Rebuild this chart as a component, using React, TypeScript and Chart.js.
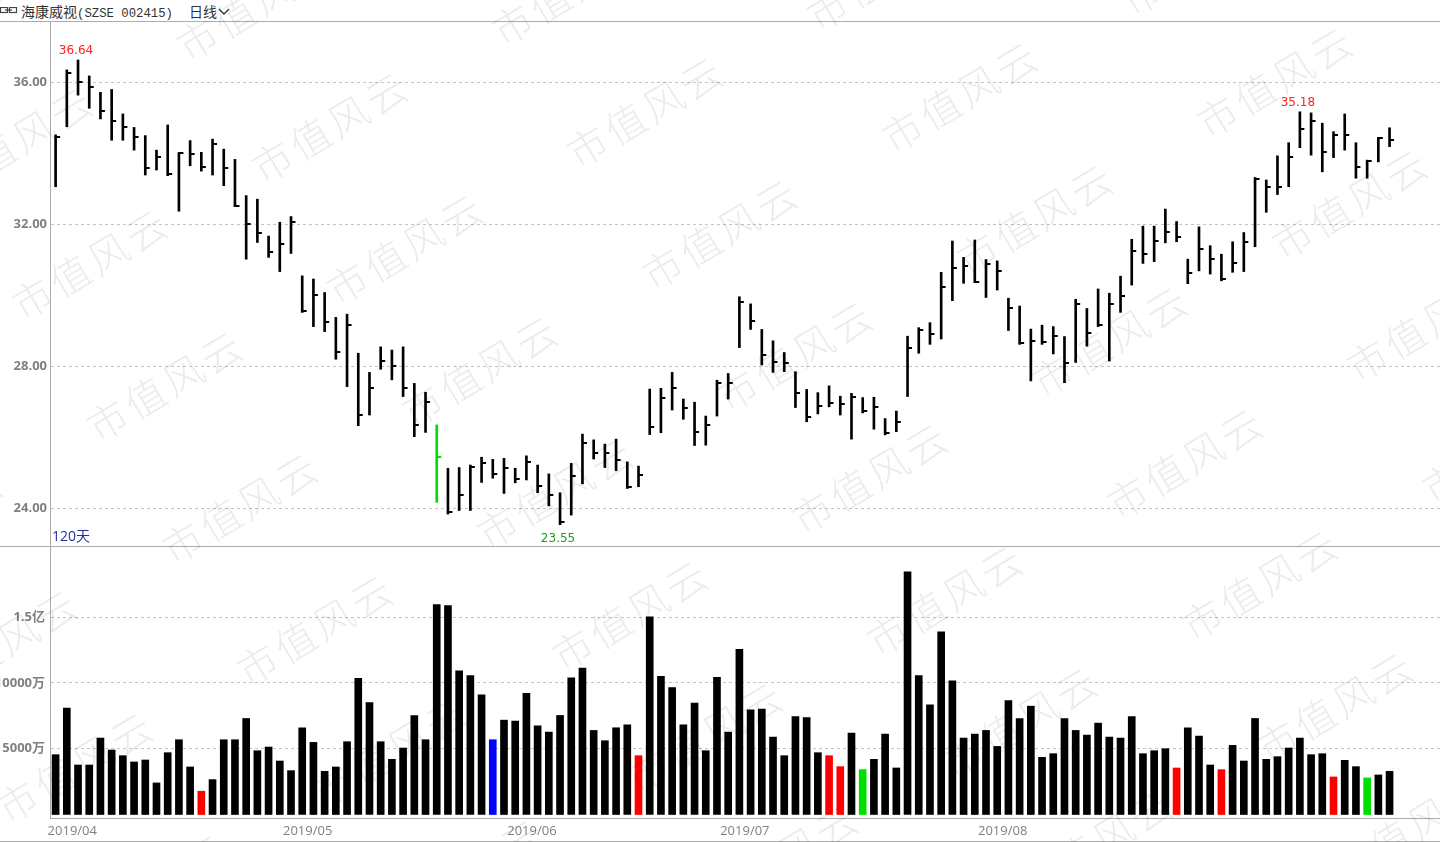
import React, { useEffect, useRef } from 'react';
import { Chart, registerables } from 'chart.js';

Chart.register(...registerables);

// ---- data (120 trading days, 2019/04 - 2019/09) ----
const highs = [
  34.53, 36.36, 36.64, 36.19, 35.73, 35.81, 35.12, 34.74, 34.51, 34.10,
  34.81, 34.03, 34.37, 34.04, 34.41, 34.13, 33.84, 32.82, 32.72, 31.68,
  32.07, 32.23, 30.56, 30.47, 30.09, 29.39, 29.48, 28.38, 27.84, 28.56,
  28.47, 28.56, 27.53, 27.28, 26.36, 25.14, 25.16, 25.23, 25.45, 25.39,
  25.42, 25.14, 25.49, 25.23, 24.98, 24.45, 25.28, 26.10, 25.94, 25.82,
  25.96, 25.32, 25.20, 27.37, 27.39, 27.84, 27.09, 27.00, 26.61, 27.62,
  27.81, 29.97, 29.77, 29.05, 28.73, 28.40, 27.86, 27.36, 27.27, 27.46,
  27.17, 27.25, 27.13, 27.14, 26.54, 26.75, 28.86, 29.10, 29.24, 30.66,
  31.54, 31.08, 31.57, 31.02, 30.98, 29.93, 29.71, 29.06, 29.17, 29.13,
  28.85, 29.90, 29.64, 30.19, 30.07, 30.55, 31.59, 31.96, 31.96, 32.44,
  32.09, 31.03, 31.94, 31.41, 31.17, 31.52, 31.78, 33.33, 33.26, 33.94,
  34.31, 35.18, 35.15, 34.86, 34.62, 35.12, 34.31, 33.82, 34.46, 34.73,
];
const lows = [
  33.07, 34.76, 35.65, 35.28, 34.98, 34.38, 34.38, 34.10, 33.40, 33.54,
  33.38, 32.38, 33.66, 33.51, 33.40, 33.10, 32.51, 31.03, 31.50, 31.08,
  30.68, 31.19, 29.53, 29.13, 28.99, 28.21, 27.44, 26.34, 26.64, 27.93,
  27.63, 27.16, 26.03, 26.15, 24.18, 23.85, 23.95, 23.95, 24.74, 24.86,
  24.43, 24.73, 24.81, 24.45, 24.08, 23.55, 23.82, 24.70, 25.40, 25.16,
  25.07, 24.57, 24.62, 26.09, 26.14, 26.78, 26.52, 25.78, 25.79, 26.61,
  27.09, 28.54, 29.05, 28.05, 27.84, 27.86, 26.85, 26.45, 26.67, 26.87,
  26.64, 25.96, 26.70, 26.24, 26.08, 26.17, 27.16, 28.38, 28.63, 28.78,
  29.86, 30.35, 30.37, 29.95, 30.16, 29.02, 28.63, 27.60, 28.63, 28.36,
  27.55, 28.12, 28.58, 29.13, 28.16, 29.53, 30.30, 30.91, 30.96, 31.49,
  31.52, 30.34, 30.70, 30.61, 30.42, 30.66, 30.68, 31.38, 32.35, 32.85,
  33.07, 34.17, 33.96, 33.49, 33.89, 34.10, 33.31, 33.31, 33.77, 34.20,
];
const closes = [
  34.48, 36.28, 36.01, 35.89, 35.20, 34.93, 34.74, 34.46, 33.59, 33.90,
  33.42, 34.01, 34.00, 33.63, 34.27, 33.59, 32.54, 32.02, 31.76, 31.22,
  31.45, 32.08, 29.58, 30.02, 29.27, 28.42, 29.18, 26.64, 27.41, 28.16,
  28.03, 27.39, 26.36, 27.00, 25.45, 23.90, 24.39, 25.18, 25.30, 24.98,
  25.14, 24.83, 25.33, 24.65, 24.39, 23.63, 24.91, 25.84, 25.58, 25.58,
  25.37, 24.60, 24.95, 26.31, 27.11, 27.39, 26.83, 26.17, 26.36, 27.53,
  27.55, 29.83, 29.29, 28.33, 28.14, 28.11, 27.25, 26.59, 26.90, 26.99,
  26.94, 27.16, 26.75, 26.87, 26.12, 26.45, 28.52, 29.03, 28.91, 30.24,
  30.79, 30.85, 30.40, 30.89, 30.71, 29.64, 28.68, 28.72, 28.69, 28.87,
  28.10, 29.78, 28.94, 29.17, 29.78, 29.99, 31.27, 31.17, 31.54, 31.80,
  31.64, 30.64, 31.31, 31.03, 30.47, 30.91, 31.52, 33.29, 33.07, 33.07,
  33.90, 34.71, 34.93, 34.06, 34.53, 34.53, 33.62, 33.79, 34.43, 34.40,
];
// volume in 万股
const volumes = [
  4545, 8080, 3762, 3762, 5808, 4899, 4469, 3990, 4141, 2399,
  4697, 5681, 3611, 1768, 2651, 5681, 5681, 7297, 4848, 5126,
  4065, 3333, 6590, 5479, 3283, 3611, 5530, 10353, 8509, 5530,
  4192, 5050, 7525, 5681, 15958, 15882, 10908, 10555, 9090, 5681,
  7171, 7095, 9216, 6742, 6262, 7525, 10378, 11135, 6388, 5606,
  6590, 6818, 4469, 15024, 10504, 9646, 6818, 8459, 4848, 10428,
  6262, 12549, 7954, 8004, 5883, 4469, 7449, 7373, 4697, 4469,
  3636, 6186, 3409, 4192, 6110, 3535, 18433, 10555, 8333, 13888,
  10151, 5808, 6110, 6388, 5176, 8661, 7297, 8232, 4343, 4621,
  7297, 6388, 6035, 6944, 5883, 5808, 7449, 4621, 4848, 5000,
  3535, 6590, 5959, 3762, 3409, 5252, 4065, 7297, 4192, 4394,
  5050, 5808, 4545, 4621, 2853, 4116, 3636, 2778, 3005, 3283,
];
const monthLabels = ['2019/04', '2019/05', '2019/06', '2019/07', '2019/08'];
const monthStartDays = [0, 21, 41, 60, 83];
const priceTicks = [24, 28, 32, 36];
const volumeTicks = [5000, 10000, 15000];
const volumeTickLabels = ['5000万', '10000万', '1.5亿'];
const greenPriceDays = [34];
const redVolumeDays = [13, 52, 69, 70, 100, 104, 114];
const greenVolumeDays = [72, 117];
const blueVolumeDays = [39];
const markedHighDays = [2, 111];
const markedLowDays = [45];
const SLOTS = 124; // 120 days + empty space on the right

const labels = Array.from({ length: SLOTS }, (_, i) => {
  const k = monthStartDays.indexOf(i);
  return k >= 0 ? monthLabels[k] : '';
});
const priceColors = highs.map((_, i) => (greenPriceDays.includes(i) ? '#00dd00' : '#000000'));
const volumeColors = volumes.map((_, i) =>
  redVolumeDays.includes(i) ? '#ff0000' : greenVolumeDays.includes(i) ? '#00e000' : blueVolumeDays.includes(i) ? '#0000ff' : '#000000'
);

const Y_FONT = { family: '"Open Sans", "Noto Sans CJK SC"', size: 13, weight: 'bold' };
const X_FONT = { family: '"Open Sans", "Noto Sans CJK SC"', size: 13 };
const AXIS_COLOR = '#808080';
const LINE_COLOR = '#acacac';
const GRID_COLOR = '#c4c4c4';

const closeTickPlugin = {
  id: 'closeTicks',
  afterDatasetsDraw(chart: any) {
    const { ctx } = chart;
    const x = chart.scales.x;
    const y = chart.scales.y;
    ctx.save();
    closes.forEach((c, i) => {
      const px = x.getPixelForValue(i);
      const py = y.getPixelForValue(c);
      ctx.fillStyle = priceColors[i];
      ctx.fillRect(px - 0.5, Math.round(py) - 1, 5, 2);
    });
    ctx.restore();
  },
};

const extremesPlugin = {
  id: 'extremes',
  afterDatasetsDraw(chart: any) {
    const { ctx } = chart;
    const x = chart.scales.x;
    const y = chart.scales.y;
    ctx.save();
    ctx.font = '12px "DejaVu Sans"';
    ctx.textAlign = 'center';
    ctx.textBaseline = 'middle';
    ctx.fillStyle = '#ff2020';
    markedHighDays.forEach((i) => {
      ctx.fillText(highs[i].toFixed(2), x.getPixelForValue(i) - 2, y.getPixelForValue(highs[i]) - 9);
    });
    ctx.fillStyle = '#1e9a1e';
    markedLowDays.forEach((i) => {
      ctx.fillText(lows[i].toFixed(2), x.getPixelForValue(i) - 2, y.getPixelForValue(lows[i]) + 14);
    });
    ctx.restore();
  },
};

function PriceChart() {
  const ref = useRef<HTMLCanvasElement>(null);
  useEffect(() => {
    const chart = new Chart(ref.current as HTMLCanvasElement, {
      type: 'bar',
      data: {
        labels,
        datasets: [
          {
            data: highs.map((h, i) => [lows[i], h]) as any,
            backgroundColor: priceColors,
            borderWidth: 0,
            barThickness: 2,
          },
        ],
      },
      options: {
        animation: false,
        responsive: false,
        events: [],
        layout: { padding: 0 },
        plugins: { legend: { display: false }, tooltip: { enabled: false } },
        scales: {
          x: { display: false, offset: true, grid: { display: false } },
          y: {
            position: 'left',
            min: 22.95,
            max: 37.71,
            afterBuildTicks: (s: any) => {
              s.ticks = priceTicks.map((v) => ({ value: v }));
            },
            afterFit: (s: any) => {
              s.width = 50;
              s.paddingTop = 0;
              s.paddingBottom = 0;
            },
            ticks: {
              callback: (v: any) => Number(v).toFixed(2),
              color: AXIS_COLOR,
              font: Y_FONT,
              padding: 3,
            },
            grid: { color: GRID_COLOR, drawTicks: false, lineWidth: 1 },
            border: { display: true, color: LINE_COLOR, dash: [3, 3] },
          },
        },
      } as any,
      plugins: [closeTickPlugin, extremesPlugin],
    });
    return () => chart.destroy();
  }, []);
  return <canvas ref={ref} width={1440} height={524} style={{ display: 'block' }} />;
}

function VolumeChart() {
  const ref = useRef<HTMLCanvasElement>(null);
  useEffect(() => {
    const chart = new Chart(ref.current as HTMLCanvasElement, {
      type: 'bar',
      data: {
        labels,
        datasets: [
          {
            data: volumes,
            backgroundColor: volumeColors,
            borderWidth: 0,
            barThickness: 7,
          },
        ],
      },
      options: {
        animation: false,
        responsive: false,
        events: [],
        layout: { padding: 0 },
        plugins: { legend: { display: false }, tooltip: { enabled: false } },
        scales: {
          x: {
            offset: true,
            grid: { display: false },
            border: { display: true, color: LINE_COLOR },
            afterFit: (s: any) => {
              s.height = 24;
              s.paddingLeft = 0;
              s.paddingRight = 0;
            },
            ticks: {
              autoSkip: false,
              maxRotation: 0,
              minRotation: 0,
              align: 'start',
              labelOffset: -8,
              padding: -3,
              color: AXIS_COLOR,
              font: X_FONT,
            },
          },
          y: {
            position: 'left',
            min: -266,
            max: 20327,
            afterBuildTicks: (s: any) => {
              s.ticks = volumeTicks.map((v) => ({ value: v }));
            },
            afterFit: (s: any) => {
              s.width = 50;
              s.paddingTop = 0;
              s.paddingBottom = 0;
            },
            ticks: {
              callback: (v: any) => volumeTickLabels[volumeTicks.indexOf(Number(v))],
              color: AXIS_COLOR,
              font: Y_FONT,
              padding: 5,
            },
            grid: { color: GRID_COLOR, drawTicks: false, lineWidth: 1 },
            border: { display: true, color: LINE_COLOR, dash: [3, 3] },
          },
        },
      } as any,
    });
    return () => chart.destroy();
  }, []);
  return <canvas ref={ref} width={1440} height={295} style={{ display: 'block' }} />;
}

function Watermark() {
  const items: { x: number; y: number }[] = [];
  for (let m = -1; m <= 6; m++) {
    for (let k = -2; k <= 4; k++) {
      const x = 330 + 315 * k + 75 * m;
      const y = 125 - 15 * k + 122 * m;
      if (x > -120 && x < 1560 && y > -80 && y < 930) items.push({ x, y });
    }
  }
  return (
    <div style={{ position: 'absolute', left: 0, top: 0, width: 1440, height: 842, pointerEvents: 'none', overflow: 'hidden', zIndex: 5 }}>
      {items.map((p, i) => (
        <span
          key={i}
          style={{
            position: 'absolute',
            left: p.x,
            top: p.y,
            transform: 'translate(-50%, -50%) rotate(-31deg)',
            fontFamily: '"Noto Sans CJK SC"',
            fontWeight: 300,
            fontSize: 40,
            letterSpacing: 4,
            whiteSpace: 'nowrap',
            color: 'rgba(0,0,0,0.08)',
          }}
        >
          市值风云
        </span>
      ))}
    </div>
  );
}

export default function App() {
  return (
    <div style={{ position: 'fixed', left: 0, top: 0, width: 1440, height: 842, background: '#fff', overflow: 'hidden' }}>
      {/* header */}
      <div style={{ position: 'absolute', left: 0, top: 0, width: 1440, height: 21, whiteSpace: 'nowrap' }}>
        <svg width="18" height="10" style={{ position: 'absolute', left: 0, top: 7 }}>
          <rect x="0.5" y="0.5" width="7" height="5" fill="none" stroke="#444" strokeWidth="1.2" />
          <rect x="9.5" y="0.5" width="7" height="5" fill="none" stroke="#444" strokeWidth="1.2" />
          <line x1="5" y1="3" x2="12" y2="3" stroke="#444" strokeWidth="1.2" />
        </svg>
        <div style={{ position: 'absolute', left: 21, top: 1, height: 20, lineHeight: '20px', color: '#333' }}>
          <span style={{ fontFamily: '"Noto Sans CJK SC"', fontSize: 14 }}>海康威视</span>
          <span style={{ fontFamily: '"Liberation Mono", "DejaVu Sans Mono"', fontSize: 12.3 }}>(SZSE 002415)</span>
        </div>
        <div style={{ position: 'absolute', left: 189, top: 1, height: 20, lineHeight: '20px', color: '#333', fontFamily: '"Noto Sans CJK SC"', fontSize: 14 }}>
          日线
        </div>
        <svg width="12" height="8" style={{ position: 'absolute', left: 218, top: 8 }}>
          <polyline points="1,1 6,6 11,1" fill="none" stroke="#333" strokeWidth="1.4" />
        </svg>
      </div>
      <div style={{ position: 'absolute', left: 0, top: 21, width: 1440, height: 1, background: LINE_COLOR }} />
      <div style={{ position: 'absolute', left: 0, top: 22 }}>
        <PriceChart />
      </div>
      <div
        style={{
          position: 'absolute',
          left: 52,
          top: 527,
          lineHeight: '18px',
          fontSize: 14,
          color: '#2030a0',
          fontFamily: '"Open Sans", "Noto Sans CJK SC"',
        }}
      >
        120天
      </div>
      <div style={{ position: 'absolute', left: 0, top: 546, width: 1440, height: 1, background: LINE_COLOR }} />
      <div style={{ position: 'absolute', left: 0, top: 547 }}>
        <VolumeChart />
      </div>
      <div style={{ position: 'absolute', left: 0, top: 841, width: 1440, height: 1, background: LINE_COLOR }} />
      <Watermark />
    </div>
  );
}
